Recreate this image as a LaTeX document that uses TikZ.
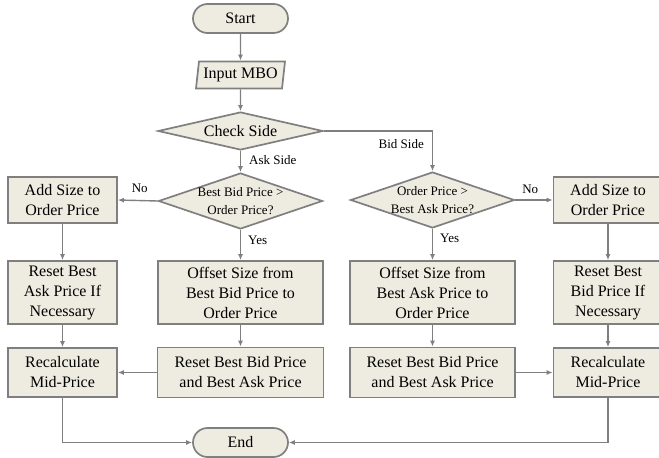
\documentclass[tikz,border=0pt]{standalone}
\usepackage{fontspec}
\setmainfont{Liberation Serif}
\usetikzlibrary{shapes.geometric,shapes.misc,arrows.meta}
\definecolor{boxfill}{HTML}{EEECE1}
\definecolor{linegray}{HTML}{7F7F7F}
\tikzset{
  base/.style={draw=linegray, fill=boxfill, line width=1.7pt, inner sep=0pt,
    font=\fontsize{16}{20}\selectfont, align=center},
  procbox/.style={base, rectangle, minimum width=#1},
  termbox/.style={base, rounded rectangle, minimum width=95pt, minimum height=29pt},
  iobox/.style={base, trapezium, trapezium left angle=78, trapezium right angle=102,
    trapezium stretches body, minimum width=89pt, minimum height=27pt},
  decbox/.style={base, diamond, minimum width=#1},
  dtext/.style={font=\fontsize{13}{18}\selectfont, align=center, inner sep=0pt},
  ctext/.style={font=\fontsize{16}{20}\selectfont, align=center, inner sep=0pt},
  conn/.style={draw=linegray, line width=1.4pt, -{Latex[length=6pt,width=5pt]}},
  lbl/.style={font=\fontsize{13}{15}\selectfont, inner sep=0pt}
}
\begin{document}
\begin{tikzpicture}[x=1pt,y=-1pt]
\useasboundingbox (0,0) rectangle (659,458);
\clip (0,0) rectangle (659,458);
% nodes
\node[termbox] (start) at (240.5,18.5) {Start};
\node[iobox] (input) at (240.5,75) {Input MBO};
\node[decbox=165pt, minimum height=38pt,
  label={[ctext]center:Check Side}] (check) at (240.5,131) {};
\node[decbox=164pt, minimum height=56pt,
  label={[dtext]center:Best Bid Price >\\Order Price?}] (askd) at (240.5,201) {};
\node[decbox=164pt, minimum height=56pt,
  label={[dtext]center:Order Price >\\Best Ask Price?}] (bidd) at (432.5,200) {};
\node[procbox=109pt, minimum height=46pt] (addL) at (62.5,200) {Add Size to\\Order Price};
\node[procbox=109pt, minimum height=46pt] (addR) at (608,200) {Add Size to\\Order Price};
\node[procbox=109pt, minimum height=63pt] (resetL) at (62.5,292.5) {Reset Best\\Ask Price If\\Necessary};
\node[procbox=109pt, minimum height=63pt] (resetR) at (608,292.5) {Reset Best\\Bid Price If\\Necessary};
\node[procbox=165pt, minimum height=63pt] (offL) at (240.5,292.5) {Offset Size from\\Best Bid Price to\\Order Price};
\node[procbox=165pt, minimum height=63pt] (offR) at (432.5,292.5) {Offset Size from\\Best Ask Price to\\Order Price};
\node[procbox=109pt, minimum height=49pt] (recL) at (62.5,372.5) {Recalculate\\Mid-Price};
\node[procbox=109pt, minimum height=49pt] (recR) at (608,372.5) {Recalculate\\Mid-Price};
\node[procbox=166pt, minimum height=50pt] (rbL) at (240.5,372.5) {Reset Best Bid Price\\and Best Ask Price};
\node[procbox=165pt, minimum height=50pt] (rbR) at (432.5,372.5) {Reset Best Bid Price\\and Best Ask Price};
\node[termbox] (end) at (240.5,442.5) {End};
% connectors
\draw[conn] (start) -- (input);
\draw[conn] (input) -- (check);
\draw[conn] (check.south) -- node[lbl, right=8pt, pos=0.45] {Ask Side} (askd.north);
\draw[conn] (check.east) -| node[lbl, left=8pt, pos=0.66] {Bid Side} (bidd.north);
\draw[conn] (askd.west) -- node[lbl, above=7pt, pos=0.45] {No} (addL.east);
\draw[conn] (bidd.east) -- node[lbl, above=6pt, pos=0.4] {No} (addR.west);
\draw[conn] (askd.south) -- node[lbl, right=7pt, pos=0.35] {Yes} (offL.north);
\draw[conn] (bidd.south) -- node[lbl, right=7pt, pos=0.3] {Yes} (offR.north);
\draw[conn] (addL) -- (resetL);
\draw[conn] (resetL) -- (recL);
\draw[conn] (addR) -- (resetR);
\draw[conn] (resetR) -- (recR);
\draw[conn] (offL) -- (rbL);
\draw[conn] (offR) -- (rbR);
\draw[conn] (rbL.west) -- (recL.east);
\draw[conn] (rbR.east) -- (recR.west);
\draw[conn] (recL.south) |- (end.west);
\draw[conn] (recR.south) |- (end.east);
\end{tikzpicture}
\end{document}
